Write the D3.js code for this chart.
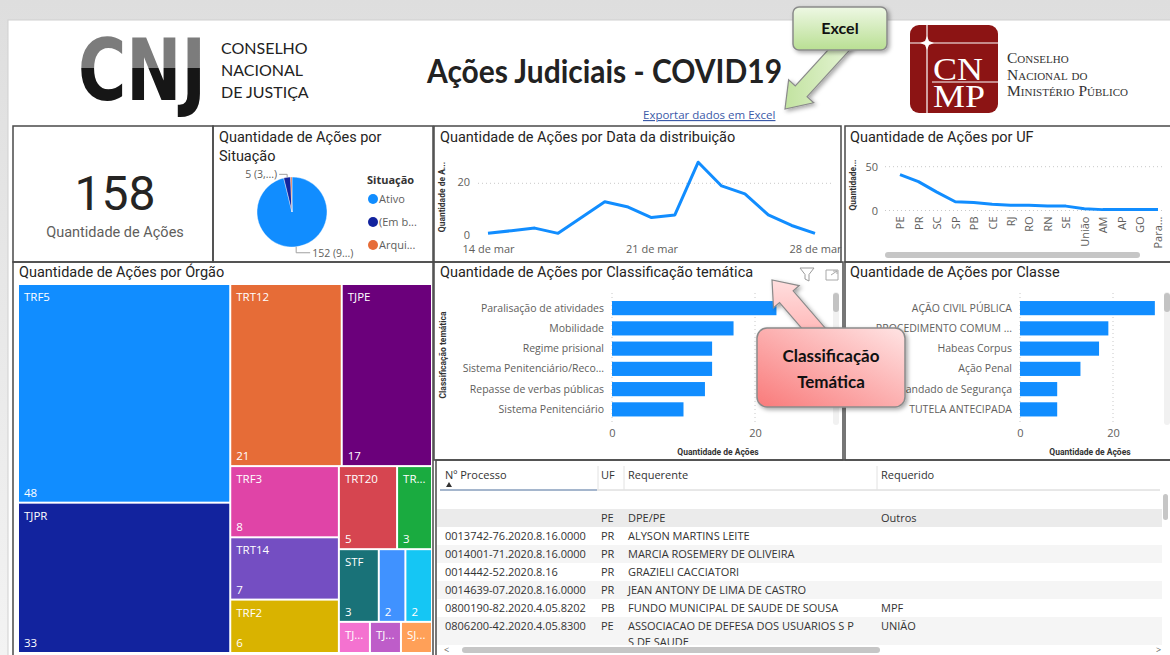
<!DOCTYPE html>
<html>
<head>
<meta charset="utf-8">
<script src="https://d3js.org/d3.v7.min.js"></script>
<style>
body { margin: 0; background: #fff; }
svg { display: block; }
.title { font-family: Roboto, sans-serif; font-size: 14.5px; fill: #252423; }
.lbl { font-family: 'Open Sans', sans-serif; font-size: 10px; fill: #605e5c; }
.axt { font-family: Roboto, sans-serif; font-weight: bold; font-size: 8.5px; fill: #333; }
.tbl { font-family: 'Open Sans', sans-serif; font-size: 11px; fill: #333; }
.grid { stroke: #c8c8c8; stroke-dasharray: 1,3; }
.axis path, .axis line { display: none; }
</style>
</head>
<body>
<script>
// data
const totalAcoes = 158
const situacoes = ['Ativo', '(Em b...', 'Arqui...']
const qtdSituacao = [152, 5, 1]
const rotulosSituacao = ['152 (9...)', '5 (3,...)', '']

const datas = ['2020-03-14', '2020-03-15', '2020-03-16', '2020-03-17', '2020-03-18', '2020-03-19', '2020-03-20',
    '2020-03-21', '2020-03-22', '2020-03-23', '2020-03-24', '2020-03-25', '2020-03-26', '2020-03-27', '2020-03-28']
const qtdData = [1, 2, 3, 1, 7, 13, 11, 7, 8, 28, 19, 16, 8, 4, 1]
const datasTicks = ['2020-03-14', '2020-03-21', '2020-03-28']

const ufs = ['PE', 'PR', 'SC', 'SP', 'PB', 'CE', 'RJ', 'RO', 'RN', 'SE', 'União', 'AM', 'AP', 'GO', 'Para...']
const qtdUf = [41, 33, 21, 10, 9, 7, 6, 6, 5, 5, 2, 1, 1, 1, 1]

const orgaos = ['TRF5', 'TJPR', 'TRT12', 'TJPE', 'TRF3', 'TRT14', 'TRF2', 'TRT20', 'TR...', 'STF', '', '', 'TJ...', 'TJ...', 'SJ...']
const qtdOrgao = [48, 33, 21, 17, 8, 7, 6, 5, 3, 3, 2, 2, 1, 1, 1]
const mostraValor = [true, true, true, true, true, true, true, true, true, true, true, true, false, false, false]

const temas = ['Paralisação de atividades', 'Mobilidade', 'Regime prisional', 'Sistema Penitenciário/Reco...',
    'Repasse de verbas públicas', 'Sistema Penitenciário']
const qtdTema = [23, 17, 14, 14, 13, 10]

const classes = ['AÇÃO CIVIL PÚBLICA', 'PROCEDIMENTO COMUM ...', 'Habeas Corpus', 'Ação Penal',
    'Mandado de Segurança', 'TUTELA ANTECIPADA']
const qtdClasse = [29, 19, 17, 13, 8, 8]

const colunas = ['Nº Processo', 'UF', 'Requerente', 'Requerido']
const processos = ['', '', '0013742-76.2020.8.16.0000', '0014001-71.2020.8.16.0000', '0014442-52.2020.8.16',
    '0014639-07.2020.8.16.0000', '0800190-82.2020.4.05.8202', '0806200-42.2020.4.05.8300']
const ufProcesso = ['', 'PE', 'PR', 'PR', 'PR', 'PR', 'PB', 'PE']
const requerentes = ['', 'DPE/PE', 'ALYSON MARTINS LEITE', 'MARCIA ROSEMERY DE OLIVEIRA', 'GRAZIELI CACCIATORI',
    'JEAN ANTONY DE LIMA DE CASTRO', 'FUNDO MUNICIPAL DE SAUDE DE SOUSA', 'ASSOCIACAO DE DEFESA DOS USUARIOS S P|S DE SAUDE']
const requeridos = ['', 'Outros', '', '', '', '', 'MPF', 'UNIÃO']

// colours
const corBarra = '#118DFF'
const coresSituacao = ['#118DFF', '#12239E', '#E66C37']
const coresOrgao = ['#118DFF', '#12239E', '#E66C37', '#6B007B', '#E044A7', '#744EC2', '#D9B300', '#D64550',
    '#1AAB40', '#197278', '#4092FF', '#15C6F4', '#F472D0', '#BE5DC9', '#FFA058']

const w = 1170
const h = 655

const svg = d3.select('body')
    .append('svg')
    .attr('width', w)
    .attr('height', h)

const defs = svg.append('defs')

const grad = (id, x2, y2, stops, attrs) => {
    const g = defs.append('linearGradient').attr('id', id)
        .attr('x1', 0).attr('y1', 0).attr('x2', x2).attr('y2', y2)
    if (attrs) Object.entries(attrs).forEach(([k, v]) => g.attr(k, v))
    stops.forEach(s => g.append('stop').attr('offset', s[0]).attr('stop-color', s[1]))
}
grad('bg', 0, 1, [[0, '#dedede'], [1, '#f3f3f3']])
grad('excel', 0, 1, [[0, '#eef8e4'], [1, '#b9df93']])
grad('excelArrow', 1, 0, [[0, '#c2e3a0'], [1, '#e6f4d6']])
grad('pink', 1, 0, [[0, '#f97a7a'], [1, '#ffe4e4']], { x1: 0, y1: 1 })
grad('pinkArrow', 0, 1, [[0, '#ffdede'], [1, '#ffb0b0']])
grad('cnj', 0, 1, [[0, '#7c7c7c'], [0.48, '#7c7c7c'], [0.48, '#161616'], [1, '#161616']],
    { gradientUnits: 'userSpaceOnUse', x1: 0, y1: 38, x2: 0, y2: 100 })

const shadow = defs.append('filter').attr('id', 'shadow')
    .attr('x', '-20%').attr('y', '-20%').attr('width', '140%').attr('height', '140%')
shadow.append('feDropShadow').attr('dx', 2).attr('dy', 2).attr('stdDeviation', 2)
    .attr('flood-opacity', 0.35)

// page background
svg.append('rect').attr('width', w).attr('height', h).attr('fill', 'url(#bg)')
svg.append('rect').attr('x', 8).attr('y', 20).attr('width', w).attr('height', h)
    .attr('fill', '#fff').attr('stroke', '#cfcfcf')

// header - CNJ logo (scaled to the logo width)
const cnjLogo = svg.append('text')
    .attr('y', 100)
    .style('font-family', 'DejaVu Sans').style('font-weight', 'bold').style('font-size', '85px')
    .attr('fill', 'url(#cnj)')
    .text('CNJ')
const cnjW = cnjLogo.node().getComputedTextLength()
cnjLogo.attr('transform', `translate(78,0) scale(${128 / cnjW},1)`)

const cnjTxt = svg.append('text')
    .style('font-family', 'Lato').style('font-size', '16px').attr('fill', '#222')
;['CONSELHO', 'NACIONAL', 'DE JUSTIÇA'].forEach((t, i) => {
    cnjTxt.append('tspan').attr('x', 221).attr('y', 54 + i * 22).text(t)
})

// header title
svg.append('text')
    .attr('x', 427).attr('y', 83)
    .attr('textLength', 355).attr('lengthAdjust', 'spacingAndGlyphs')
    .style('font-family', 'Lato').style('font-weight', 'bold').style('font-size', '33px')
    .attr('fill', '#222')
    .text('Ações Judiciais - COVID19')

svg.append('text')
    .attr('x', 643).attr('y', 119)
    .style('font-family', 'Open Sans').style('font-size', '11.5px')
    .style('text-decoration', 'underline')
    .attr('fill', '#3b5aa8')
    .text('Exportar dados em Excel')

// header - CNMP logo
const cnmp = svg.append('g')
cnmp.append('rect').attr('x', 910).attr('y', 25).attr('width', 88).attr('height', 88).attr('rx', 9)
    .attr('fill', '#8c1414')
cnmp.append('line').attr('x1', 927).attr('x2', 927).attr('y1', 25).attr('y2', 113)
    .attr('stroke', '#fff').attr('stroke-width', 1.2)
cnmp.append('line').attr('x1', 910).attr('x2', 998).attr('y1', 43).attr('y2', 43)
    .attr('stroke', '#fff').attr('stroke-width', 1.2)
cnmp.append('path').attr('d', 'M927,36 L929,41 L934,43 L929,45 L927,50 L925,45 L920,43 L925,41 Z').attr('fill', '#fff')
cnmp.append('line').attr('x1', 932).attr('x2', 998).attr('y1', 82).attr('y2', 82)
    .attr('stroke', '#fff').attr('stroke-width', 1)
const cnmpMark = cnmp.append('text')
    .style('font-family', 'Liberation Serif').style('font-size', '32px').attr('fill', '#fff')
cnmpMark.append('tspan').attr('x', 933).attr('y', 80).attr('textLength', 50)
    .attr('lengthAdjust', 'spacingAndGlyphs').text('CN')
cnmpMark.append('tspan').attr('x', 933).attr('y', 107).attr('textLength', 52)
    .attr('lengthAdjust', 'spacingAndGlyphs').text('MP')
const cnmpTxt = svg.append('text')
    .style('font-family', 'Liberation Serif').style('font-size', '15.5px')
    .style('font-variant', 'small-caps').attr('fill', '#333')
;['Conselho', 'Nacional do', 'Ministério Público'].forEach((t, i) => {
    cnmpTxt.append('tspan').attr('x', 1007).attr('y', 63 + i * 16.5).text(t)
})

// panels
const panels = [[13, 126, 200, 136], [213, 126, 220, 136], [434, 126, 407, 136], [845, 126, 330, 136],
    [13, 262, 420, 396], [434, 262, 409, 198], [845, 262, 330, 198], [436, 460, 740, 200]]
svg.append('g').selectAll('rect')
    .data(panels)
    .enter()
    .append('rect')
    .attr('x', d => d[0]).attr('y', d => d[1])
    .attr('width', d => d[2]).attr('height', d => d[3])
    .attr('fill', 'none').attr('stroke', '#4a4a4a').attr('stroke-width', 1.5)

const title = (x, y, t) => svg.append('text').attr('class', 'title').attr('x', x).attr('y', y).text(t)

// KPI card
svg.append('text')
    .attr('x', 115).attr('y', 210).attr('text-anchor', 'middle')
    .style('font-family', 'Roboto').style('font-size', '48px').attr('fill', '#252423')
    .text(totalAcoes)
svg.append('text')
    .attr('x', 115).attr('y', 237).attr('text-anchor', 'middle')
    .style('font-family', 'Roboto').style('font-size', '14.5px').attr('fill', '#605e5c')
    .text('Quantidade de Ações')

// pie - situação
title(219, 142, 'Quantidade de Ações por')
title(219, 161, 'Situação')
const cx = 292
const cy = 212
const r = 35
const pieArcs = d3.pie().sort(null).value(d => d)(qtdSituacao)
const arc = d3.arc().innerRadius(0).outerRadius(r)
svg.append('g')
    .attr('transform', `translate(${cx},${cy})`)
    .selectAll('path')
    .data(pieArcs)
    .enter()
    .append('path')
    .attr('d', arc)
    .attr('fill', (d, i) => coresSituacao[i])
    .attr('stroke', '#fff').attr('stroke-width', 0.4)

pieArcs.forEach((a, i) => {
    if (!rotulosSituacao[i]) return
    const mid = (a.startAngle + a.endAngle) / 2
    const px = cx + r * Math.sin(mid)
    const py = cy - r * Math.cos(mid)
    const up = Math.cos(mid) > 0
    const right = Math.sin(mid) > 0
    const ly = py + (up ? -3 : 6)
    const lx = px + (right ? 14 : -8)
    svg.append('polyline')
        .attr('points', `${px},${py} ${px},${ly} ${lx},${ly}`)
        .attr('fill', 'none').attr('stroke', '#a0a0a0').attr('stroke-width', 1)
    svg.append('text').attr('class', 'lbl').style('font-size', '10.5px')
        .attr('x', right ? lx + 2 : lx - 2).attr('y', ly + 4)
        .attr('text-anchor', right ? 'start' : 'end')
        .text(rotulosSituacao[i])
})

svg.append('text')
    .attr('x', 367).attr('y', 184)
    .style('font-family', 'Open Sans').style('font-weight', 'bold').style('font-size', '11px')
    .attr('fill', '#333')
    .text('Situação')
const leg = svg.append('g').selectAll('g')
    .data(situacoes)
    .enter()
    .append('g')
    .attr('transform', (d, i) => `translate(373,${199 + i * 23})`)
leg.append('circle').attr('r', 5).attr('fill', (d, i) => coresSituacao[i])
leg.append('text').attr('class', 'lbl').style('font-size', '11px')
    .attr('x', 6).attr('y', 4).text(d => d)

// line chart - data da distribuição
title(440, 142, 'Quantidade de Ações por Data da distribuição')
const parse = d3.timeParse('%Y-%m-%d')
const xData = d3.scaleTime()
    .domain([parse(datas[0]), parse(datas[datas.length - 1])])
    .range([488, 815])
const yData = d3.scaleLinear().domain([0, 20]).range([236, 183.3])

svg.append('line').attr('class', 'grid')
    .attr('x1', 478).attr('x2', 834).attr('y1', yData(20)).attr('y2', yData(20))

svg.append('g').attr('class', 'axis lbl')
    .attr('transform', 'translate(470,-1)')
    .call(d3.axisLeft(yData).tickValues([0, 20]).tickSize(0).tickPadding(0))
    .selectAll('text').attr('class', 'lbl').style('font-size', '11px')

svg.append('g').attr('class', 'axis')
    .attr('transform', `translate(0,${yData(0)})`)
    .call(d3.axisBottom(xData)
        .tickValues(datasTicks.map(parse))
        .tickFormat(d => d3.timeFormat('%-d')(d) + ' de mar')
        .tickSize(0).tickPadding(9))
    .selectAll('text').attr('class', 'lbl').style('font-size', '11px')

svg.append('path')
    .datum(qtdData)
    .attr('fill', 'none')
    .attr('stroke', corBarra)
    .attr('stroke-width', 3)
    .attr('stroke-linejoin', 'round')
    .attr('d', d3.line().x((d, i) => xData(parse(datas[i]))).y(d => yData(d)))

svg.append('text').attr('class', 'axt')
    .attr('transform', 'translate(445,197) rotate(-90)').attr('text-anchor', 'middle')
    .text('Quantidade de A...')

// line chart - UF
title(850, 142, 'Quantidade de Ações por UF')
const xUf = d3.scalePoint().domain(ufs).range([900, 1158])
const yUf = d3.scaleLinear().domain([0, 50]).range([210.5, 166.7])

svg.append('g').selectAll('line')
    .data([0, 50])
    .enter()
    .append('line').attr('class', 'grid')
    .attr('x1', 885).attr('x2', 1165)
    .attr('y1', d => yUf(d)).attr('y2', d => yUf(d))

svg.append('g').attr('class', 'axis')
    .attr('transform', 'translate(878,0)')
    .call(d3.axisLeft(yUf).tickValues([0, 50]).tickSize(0).tickPadding(0))
    .selectAll('text').attr('class', 'lbl').style('font-size', '11px')

svg.append('g').attr('class', 'axis')
    .attr('transform', `translate(0,${yUf(0)})`)
    .call(d3.axisBottom(xUf).tickSize(0))
    .selectAll('text').attr('class', 'lbl').style('font-size', '11px')
    .attr('transform', 'rotate(-90)')
    .attr('text-anchor', 'end')
    .attr('x', -6).attr('y', 0).attr('dy', '0.35em')

svg.append('path')
    .datum(qtdUf)
    .attr('fill', 'none')
    .attr('stroke', corBarra)
    .attr('stroke-width', 3)
    .attr('stroke-linejoin', 'round')
    .attr('d', d3.line().x((d, i) => xUf(ufs[i])).y(d => yUf(d)))

svg.append('text').attr('class', 'axt')
    .attr('transform', 'translate(856,185) rotate(-90)').attr('text-anchor', 'middle')
    .text('Quantidade...')
svg.append('rect').attr('x', 885).attr('y', 252).attr('width', 255).attr('height', 6).attr('rx', 3)
    .attr('fill', '#c6c6c6')

// treemap - órgão
title(19, 277, 'Quantidade de Ações por Órgão')
const root = d3.hierarchy({ children: orgaos.map((n, i) => ({ name: n, value: qtdOrgao[i], i: i })) })
    .sum(d => d.value || 0)
    .sort((a, b) => b.value - a.value)
d3.treemap().size([412, 367]).paddingInner(2)(root)

const cell = svg.append('g')
    .attr('transform', 'translate(19,285)')
    .selectAll('g')
    .data(root.leaves())
    .enter()
    .append('g')
    .attr('transform', d => `translate(${d.x0},${d.y0})`)
cell.append('rect')
    .attr('width', d => d.x1 - d.x0)
    .attr('height', d => d.y1 - d.y0)
    .attr('fill', d => coresOrgao[d.data.i])
cell.append('text')
    .attr('x', 5).attr('y', 16)
    .style('font-family', 'Open Sans').style('font-size', '11.5px').attr('fill', '#fff')
    .text(d => d.data.name)
cell.append('text')
    .attr('x', 5).attr('y', d => d.y1 - d.y0 - 5)
    .style('font-family', 'Open Sans').style('font-size', '11.5px').attr('fill', '#fff')
    .text(d => mostraValor[d.data.i] ? d.value : '')

// bar charts
const barChart = (cats, vals, x0, x20, axisTitleX, scrollX) => {
    const x = d3.scaleLinear().domain([0, 20]).range([x0, x20])
    const y = d3.scaleBand().domain(cats).range([298, 419.5]).paddingInner(0.3).paddingOuter(0.15)

    svg.append('g').selectAll('line')
        .data([0, 20])
        .enter()
        .append('line').attr('class', 'grid')
        .attr('x1', d => x(d)).attr('x2', d => x(d))
        .attr('y1', 293).attr('y2', 425)

    svg.append('g').selectAll('rect')
        .data(vals)
        .enter()
        .append('rect')
        .attr('x', x(0))
        .attr('y', (d, i) => y(cats[i]))
        .attr('width', d => x(d) - x(0))
        .attr('height', y.bandwidth())
        .attr('fill', corBarra)

    svg.append('g').attr('class', 'axis')
        .attr('transform', `translate(${x(0)},0)`)
        .call(d3.axisLeft(y).tickSize(0).tickPadding(8))
        .selectAll('text').attr('class', 'lbl').style('font-size', '10.5px')

    svg.append('g').attr('class', 'axis')
        .attr('transform', 'translate(0,429)')
        .call(d3.axisBottom(x).tickValues([0, 20]).tickSize(0).tickPadding(0))
        .selectAll('text').attr('class', 'lbl').style('font-size', '11px')

    svg.append('text').attr('class', 'axt')
        .attr('x', axisTitleX).attr('y', 455).attr('text-anchor', 'middle')
        .text('Quantidade de Ações')

    svg.append('rect').attr('x', scrollX).attr('y', 292).attr('width', 6).attr('height', 133).attr('rx', 3)
        .attr('fill', '#f1f1f1')
    svg.append('rect').attr('x', scrollX).attr('y', 293).attr('width', 6).attr('height', 19).attr('rx', 3)
        .attr('fill', '#c3c3c3')
}

title(440, 277, 'Quantidade de Ações por Classificação temática')
barChart(temas, qtdTema, 612, 755, 718, 833)
svg.append('text').attr('class', 'axt')
    .attr('transform', 'translate(446,355) rotate(-90)').attr('text-anchor', 'middle')
    .text('Classificação temática')

title(850, 277, 'Quantidade de Ações por Classe')
barChart(classes, qtdClasse, 1020, 1113, 1090, 1164)

// filter / expand icons
svg.append('path')
    .attr('d', 'M800,268 L814,268 L809,274.5 L809,281 L805,279 L805,274.5 Z')
    .attr('fill', 'none').attr('stroke', '#9a9a9a').attr('stroke-width', 1)
svg.append('path')
    .attr('d', 'M826,270 L826,280 L838,280 L838,270 Z M831,275 L837,271 M833,271 L837,271 L837,274')
    .attr('fill', 'none').attr('stroke', '#a8a8a8').attr('stroke-width', 1)

// table
const rowH = 18
const colX = [445, 601, 628, 881]
const tbl = svg.append('g')
tbl.selectAll('text.h')
    .data(colunas)
    .enter()
    .append('text').attr('class', 'tbl')
    .attr('x', (d, i) => colX[i]).attr('y', 479)
    .text(d => d)
tbl.append('path').attr('d', 'M446,487 L452,487 L449,482 Z').attr('fill', '#333')
tbl.append('line').attr('x1', 440).attr('x2', 1160).attr('y1', 490).attr('y2', 490)
    .attr('stroke', '#d0d0d0')
tbl.append('line').attr('x1', 440).attr('x2', 597).attr('y1', 490).attr('y2', 490)
    .attr('stroke', '#8fa6c4').attr('stroke-width', 1.5)
tbl.selectAll('line.sep')
    .data([598, 624, 877])
    .enter()
    .append('line')
    .attr('x1', d => d).attr('x2', d => d).attr('y1', 466).attr('y2', 490)
    .attr('stroke', '#e2e2e2')

defs.append('clipPath').attr('id', 'tblClip')
    .append('rect').attr('x', 437).attr('y', 491).attr('width', 725).attr('height', 154)

const linhas = processos.map((p, i) => [p, ufProcesso[i], requerentes[i], requeridos[i]])
const corpo = tbl.append('g').attr('clip-path', 'url(#tblClip)')
const linha = corpo.selectAll('g')
    .data(linhas)
    .enter()
    .append('g')
    .attr('transform', (d, i) => `translate(0,${491 + i * rowH})`)
linha.append('rect')
    .attr('x', 437).attr('width', 725)
    .attr('height', (d, i) => i === linhas.length - 1 ? rowH * 2 : rowH)
    .attr('fill', (d, i) => i === 1 ? '#ebebeb' : (i % 2 ? '#f5f5f5' : '#fff'))
linha.each(function (d) {
    const g = d3.select(this)
    d.forEach((v, j) => {
        v.split('|').forEach((part, k) => {
            g.append('text').attr('class', 'tbl')
                .attr('x', colX[j]).attr('y', 13 + k * 16)
                .text(part)
        })
    })
})

// table scrollbars
svg.append('rect').attr('x', 437).attr('y', 645).attr('width', 725).attr('height', 10).attr('fill', '#fff')
svg.append('rect').attr('x', 462).attr('y', 647).attr('width', 418).attr('height', 6).attr('rx', 3)
    .attr('fill', '#c6c6c6')
svg.append('text').attr('class', 'lbl').style('font-size', '9px').attr('x', 444).attr('y', 653).text('<')
svg.append('text').attr('class', 'lbl').style('font-size', '9px').attr('x', 1156).attr('y', 653).text('>')
svg.append('rect').attr('x', 1163).attr('y', 494).attr('width', 5).attr('height', 26).attr('rx', 2.5)
    .attr('fill', '#c6c6c6')

// callouts
const arrow = (x0, y0, x1, y1, shaft, head, headLen) => {
    const len = Math.hypot(x1 - x0, y1 - y0)
    const a = Math.atan2(y1 - y0, x1 - x0)
    const pts = [[0, -shaft], [len - headLen, -shaft], [len - headLen, -head], [len, 0],
        [len - headLen, head], [len - headLen, shaft], [0, shaft]]
    return pts.map(p => [
        x0 + p[0] * Math.cos(a) - p[1] * Math.sin(a),
        y0 + p[0] * Math.sin(a) + p[1] * Math.cos(a)
    ].join(',')).join(' ')
}

svg.append('polygon')
    .attr('points', arrow(848, 40, 785, 109, 8, 17, 24))
    .attr('fill', 'url(#excelArrow)').attr('stroke', '#8a8a8a').attr('stroke-width', 1.2)
    .attr('filter', 'url(#shadow)')
svg.append('rect').attr('x', 793).attr('y', 7).attr('width', 94).attr('height', 43).attr('rx', 6)
    .attr('fill', 'url(#excel)').attr('stroke', '#8a8a8a').attr('stroke-width', 1.5)
    .attr('filter', 'url(#shadow)')
svg.append('text').attr('x', 840).attr('y', 34).attr('text-anchor', 'middle')
    .style('font-family', 'Lato').style('font-weight', 'bold').style('font-size', '16px')
    .attr('fill', '#111').text('Excel')

svg.append('polygon')
    .attr('points', arrow(822, 338, 772, 280, 9, 17, 22))
    .attr('fill', 'url(#pinkArrow)').attr('stroke', '#8a8a8a').attr('stroke-width', 1.2)
    .attr('filter', 'url(#shadow)')
svg.append('rect').attr('x', 757).attr('y', 328).attr('width', 148).attr('height', 79).attr('rx', 10)
    .attr('fill', 'url(#pink)').attr('stroke', '#8a8a8a').attr('stroke-width', 1.5)
    .attr('filter', 'url(#shadow)')
const calloutTxt = svg.append('text').attr('text-anchor', 'middle')
    .style('font-family', 'Lato').style('font-weight', 'bold').style('font-size', '17px')
    .attr('fill', '#111')
calloutTxt.append('tspan').attr('x', 831).attr('y', 362).text('Classificação')
calloutTxt.append('tspan').attr('x', 831).attr('y', 388).text('Temática')
</script>
</body>
</html>
